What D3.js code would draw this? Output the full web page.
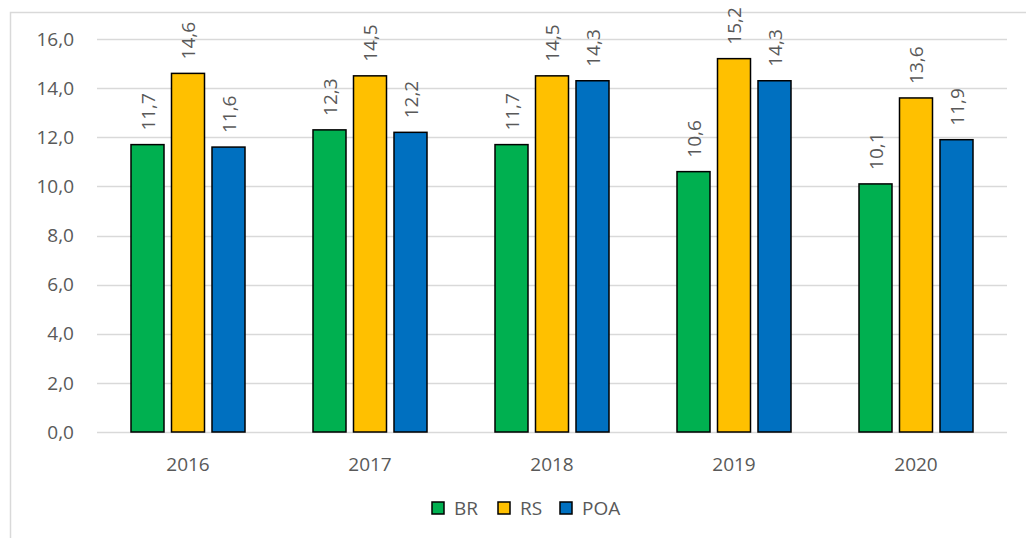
<!DOCTYPE html>
<html>
<head>
<meta charset="utf-8">
<script src="https://cdn.jsdelivr.net/npm/d3@7"></script>
<style>
  body { margin: 0; background: #fff; }
  text { font-family: "Segoe UI", "Open Sans", "DejaVu Sans", sans-serif; fill: #595959; }
</style>
</head>
<body>
<script>

var years = ["2016", "2017", "2018", "2019", "2020"];
var series = ["BR", "RS", "POA"];
var br  = [11.7, 12.3, 11.7, 10.6, 10.1];
var rs  = [14.6, 14.5, 14.5, 15.2, 13.6];
var poa = [11.6, 12.2, 14.3, 14.3, 11.9];
var yTicks = [0, 2, 4, 6, 8, 10, 12, 14, 16];
var colors = ["#00B050", "#FFC000", "#0070C0"];

var width = 1026,
    height = 538;

var svg = d3.select("body").append("svg")
    .attr("width", width)
    .attr("height", height);

// outer frame (runs off right & bottom like the screenshot)
svg.append("rect")
    .attr("x", 10.5).attr("y", 12.5)
    .attr("width", 1030).attr("height", 540)
    .attr("fill", "none")
    .attr("stroke", "#d9d9d9")
    .attr("stroke-width", 1.5);

var x = d3.scaleBand().domain(years).range([97, 1007]);
var y = d3.scaleLinear().domain([0, 16]).range([432, 39]);

var barW = 33, gap = 7.5;
var fs = "19px";

// gridlines
svg.append("g")
    .selectAll("line")
    .data(yTicks)
    .enter().append("line")
    .attr("x1", 97).attr("x2", 1007)
    .attr("y1", function(d) { return Math.round(y(d)) + 0.5; })
    .attr("y2", function(d) { return Math.round(y(d)) + 0.5; })
    .attr("stroke", "#d9d9d9")
    .attr("stroke-width", 1.5);

// y tick labels
svg.append("g")
    .selectAll("text")
    .data(yTicks)
    .enter().append("text")
    .attr("x", 74)
    .attr("y", function(d) { return y(d); })
    .attr("dy", "0.35em")
    .attr("text-anchor", "end")
    .style("font-size", fs)
    .text(function(d) { return d.toFixed(1).replace(".", ","); });

// x labels
svg.append("g")
    .selectAll("text")
    .data(years)
    .enter().append("text")
    .attr("x", function(d) { return x(d) + x.bandwidth() / 2; })
    .attr("y", 464)
    .attr("dy", "0.35em")
    .attr("text-anchor", "middle")
    .style("font-size", fs)
    .text(function(d) { return d; });

var data = [br, rs, poa];

data.forEach(function(vals, si) {
  var g = svg.append("g");
  var off = (si - 1) * (barW + gap) - barW / 2;
  g.selectAll("rect")
    .data(vals)
    .enter().append("rect")
    .attr("x", function(d, i) { return x(years[i]) + x.bandwidth() / 2 + off; })
    .attr("y", function(d) { return y(d); })
    .attr("width", barW)
    .attr("height", function(d) { return y(0) - y(d); })
    .attr("fill", colors[si])
    .attr("stroke", "#000")
    .attr("stroke-width", 1.5);

  g.selectAll("text")
    .data(vals)
    .enter().append("text")
    .attr("transform", function(d, i) {
      var cx = x(years[i]) + x.bandwidth() / 2 + off + barW / 2;
      return "translate(" + (cx + 7) + "," + (y(d) - 14) + ") rotate(-90)";
    })
    .attr("text-anchor", "start")
    .style("font-size", fs)
    .text(function(d) { return d.toFixed(1).replace(".", ","); });
});

// legend
var legendX = [432, 498, 560];
var lg = svg.append("g");
series.forEach(function(s, i) {
  lg.append("rect")
    .attr("x", legendX[i]).attr("y", 502)
    .attr("width", 12).attr("height", 12)
    .attr("fill", colors[i])
    .attr("stroke", "#000")
    .attr("stroke-width", 1.5);
  lg.append("text")
    .attr("x", legendX[i] + 22).attr("y", 508)
    .attr("dy", "0.35em")
    .style("font-size", fs)
    .text(s);
});

</script>
</body>
</html>
